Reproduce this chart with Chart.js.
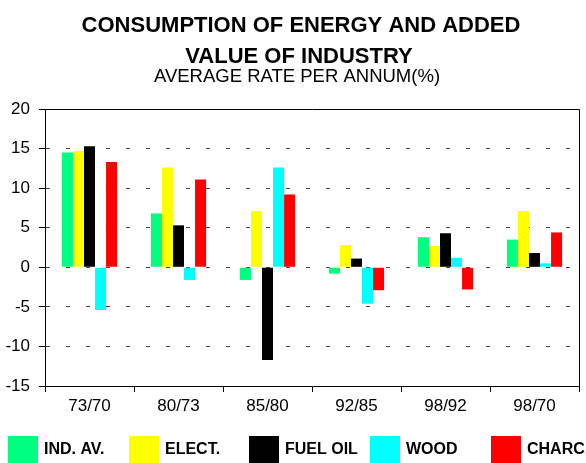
<!DOCTYPE html>
<html>
<head>
<meta charset="utf-8">
<script src="https://cdn.jsdelivr.net/npm/chart.js@4.4.0/dist/chart.umd.min.js"></script>
<style>
  html, body { margin: 0; padding: 0; background: #fff; }
</style>
</head>
<body>
<canvas id="chart" width="586" height="463"></canvas>
<script>
const periods = ['73/70', '80/73', '85/80', '92/85', '98/92', '98/70'];
const indAv = [14.5, 6.8, -1.6, -0.8, 3.8, 3.5];
const elect = [14.7, 12.6, 7.1, 2.8, 2.7, 7.1];
const fuelOil = [15.3, 5.3, -11.7, 1.1, 4.3, 1.8];
const wood = [-5.4, -1.6, 12.6, -4.6, 1.2, 0.5];
const charc = [13.3, 11.1, 9.2, -2.9, -2.8, 4.4];
const seriesNames = ['IND. AV.', 'ELECT.', 'FUEL OIL', 'WOOD', 'CHARC.'];
const seriesColors = ['#00ff80', '#ffff00', '#000000', '#00ffff', '#ff0000'];
const yTicks = [-15, -10, -5, 0, 5, 10, 15, 20];
const titleLines = ['CONSUMPTION OF ENERGY AND ADDED', 'VALUE OF INDUSTRY'];
const subTitle = 'AVERAGE RATE PER ANNUM(%)';

const FONT = '"Liberation Sans", Arial, sans-serif';
Chart.defaults.font.family = FONT;
Chart.defaults.color = '#000';

// titles, plot frame and the legend row at the bottom
const decor = {
  id: 'decor',
  afterDraw(chart) {
    const ctx = chart.ctx;
    const a = chart.chartArea;
    ctx.save();
    ctx.strokeStyle = '#000';
    ctx.lineWidth = 1;
    ctx.beginPath();
    ctx.moveTo(a.left, a.top + 0.5);
    ctx.lineTo(a.right + 0.5, a.top + 0.5);
    ctx.lineTo(a.right + 0.5, a.bottom);
    ctx.stroke();

    ctx.fillStyle = '#000';
    ctx.textAlign = 'center';
    ctx.textBaseline = 'alphabetic';
    ctx.font = 'bold 22px ' + FONT;
    ctx.fillText(titleLines[0], 301, 32);
    ctx.fillText(titleLines[1], 299, 63);
    ctx.font = '18.5px ' + FONT;
    ctx.fillText(subTitle, 297, 82);

    ctx.font = 'bold 16px ' + FONT;
    ctx.textAlign = 'left';
    ctx.textBaseline = 'middle';
    chart.data.datasets.forEach((ds, i) => {
      const x = Math.round(8 + i * 120.7);
      ctx.fillStyle = ds.backgroundColor;
      ctx.fillRect(x, 436, 30, 27);
      ctx.fillStyle = '#000';
      ctx.fillText(ds.label, x + 36, 450);
    });
    ctx.restore();
  }
};

const allSeries = [indAv, elect, fuelOil, wood, charc];

new Chart(document.getElementById('chart'), {
  type: 'bar',
  data: {
    labels: periods,
    datasets: allSeries.map((vals, i) => ({
      label: seriesNames[i],
      data: vals,
      backgroundColor: seriesColors[i],
      borderWidth: 0,
      categoryPercentage: 0.62,
      barPercentage: 1.0
    }))
  },
  options: {
    responsive: false,
    animation: false,
    layout: { padding: { top: 109, right: 7, left: 0, bottom: 0 } },
    plugins: {
      legend: { display: false },
      tooltip: { enabled: false }
    },
    scales: {
      x: {
        grid: { display: true, drawOnChartArea: false, drawTicks: true, tickLength: 6, color: '#000', offset: true },
        border: { display: true, color: '#000', width: 1 },
        ticks: { color: '#000', font: { size: 17 }, padding: 4, maxRotation: 0 },
        afterFit(s) { s.height = 77; }
      },
      y: {
        min: -15,
        max: 20,
        afterBuildTicks(s) { s.ticks = yTicks.map(v => ({ value: v })); },
        grid: { color: '#444', lineWidth: 1, tickLength: 6, tickColor: '#000', drawTicks: true },
        border: { display: true, color: '#000', width: 1, dash: [4, 16] },
        ticks: { color: '#000', font: { size: 17 }, padding: 9 },
        afterFit(s) { s.width = 45; }
      }
    }
  },
  plugins: [decor]
});
</script>
</body>
</html>
